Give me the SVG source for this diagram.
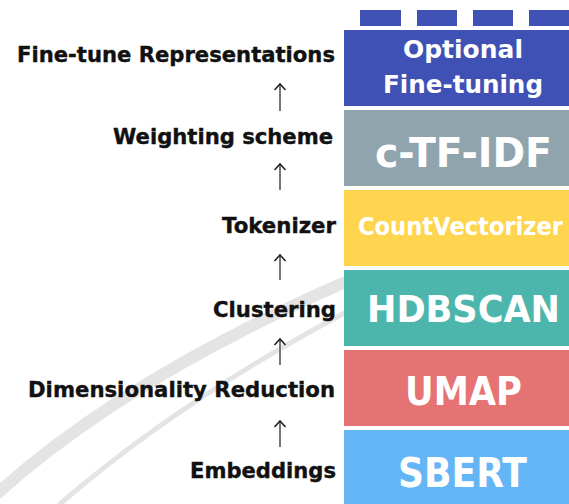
<svg xmlns="http://www.w3.org/2000/svg" width="569" height="504" viewBox="0 0 569 504">
  <style>
    .lbl { font-family: "DejaVu Sans", "Liberation Sans", sans-serif; font-weight: bold; font-size: 22px; fill: #111; stroke: #111; stroke-width: 0.4; text-anchor: end; }
    .box-t { font-family: "DejaVu Sans", "Liberation Sans", sans-serif; font-weight: bold; fill: #ffffff; text-anchor: middle; }
    .shaft { stroke: #777; stroke-width: 2; fill: none; }
    .head { stroke: #222; stroke-width: 1.6; fill: none; }
    .wm { stroke: #e4e4e4; fill: none; stroke-linecap: round; }
  </style>
  <rect width="569" height="504" fill="#ffffff"/>
  <g id="watermark">
    <path class="wm" stroke-width="12" d="M -10 500 Q 120 380 350 280"/>
    <path class="wm" stroke-width="5" d="M 60 504 Q 180 400 350 310"/>
  </g>

  <g id="connectors">
    <g><line class="shaft" x1="280" y1="111" x2="280" y2="85"/><polyline class="head" points="274.5,90 280,84 285.5,90"/></g>
    <g><line class="shaft" x1="280" y1="190" x2="280" y2="165"/><polyline class="head" points="274.5,170 280,164 285.5,170"/></g>
    <g><line class="shaft" x1="280" y1="280" x2="280" y2="256"/><polyline class="head" points="274.5,261 280,255 285.5,261"/></g>
    <g><line class="shaft" x1="280" y1="365" x2="280" y2="340"/><polyline class="head" points="274.5,345 280,339 285.5,345"/></g>
    <g><line class="shaft" x1="280" y1="447" x2="280" y2="422"/><polyline class="head" points="274.5,427 280,421 285.5,427"/></g>
  </g>

  <g id="labels">
    <text class="lbl" x="335" y="62" textLength="318" lengthAdjust="spacingAndGlyphs">Fine-tune Representations</text>
    <text class="lbl" x="333" y="144" textLength="220" lengthAdjust="spacingAndGlyphs">Weighting scheme</text>
    <text class="lbl" x="336" y="233" textLength="114" lengthAdjust="spacingAndGlyphs">Tokenizer</text>
    <text class="lbl" x="336" y="317" textLength="123" lengthAdjust="spacingAndGlyphs">Clustering</text>
    <text class="lbl" x="335" y="397" textLength="307" lengthAdjust="spacingAndGlyphs">Dimensionality Reduction</text>
    <text class="lbl" x="336" y="478" textLength="146" lengthAdjust="spacingAndGlyphs">Embeddings</text>
  </g>

  <g id="top-blocks" fill="#3F51B5">
    <rect x="360" y="10" width="41" height="16"/>
    <rect x="417" y="10" width="40" height="16"/>
    <rect x="473" y="10" width="40" height="16"/>
    <rect x="529" y="10" width="40" height="16"/>
  </g>

  <g id="node-finetune">
    <rect x="344" y="30" width="225" height="76" fill="#3F51B5"/>
    <text class="box-t" x="463" y="58" font-size="25" textLength="120" lengthAdjust="spacingAndGlyphs">Optional</text>
    <text class="box-t" x="463" y="93" font-size="25" textLength="160" lengthAdjust="spacingAndGlyphs">Fine-tuning</text>
  </g>
  <g id="node-ctfidf">
    <rect x="344" y="110" width="225" height="76" fill="#90A4AE"/>
    <text class="box-t" x="463.5" y="167" font-size="41" textLength="177" lengthAdjust="spacingAndGlyphs">c-TF-IDF</text>
  </g>
  <g id="node-countvectorizer">
    <rect x="344" y="190" width="225" height="76" fill="#FFD54F"/>
    <text class="box-t" x="460.5" y="235" font-size="24" textLength="205" lengthAdjust="spacingAndGlyphs">CountVectorizer</text>
  </g>
  <g id="node-hdbscan">
    <rect x="344" y="270" width="225" height="76" fill="#4DB6AC"/>
    <text class="box-t" x="463.5" y="322" font-size="38" textLength="193" lengthAdjust="spacingAndGlyphs">HDBSCAN</text>
  </g>
  <g id="node-umap">
    <rect x="344" y="350" width="225" height="76" fill="#E57373"/>
    <text class="box-t" x="463.5" y="405" font-size="39" textLength="117" lengthAdjust="spacingAndGlyphs">UMAP</text>
  </g>
  <g id="node-sbert">
    <rect x="344" y="430" width="225" height="76" fill="#64B5F6"/>
    <text class="box-t" x="462.5" y="487" font-size="40" textLength="129" lengthAdjust="spacingAndGlyphs">SBERT</text>
  </g>
</svg>
